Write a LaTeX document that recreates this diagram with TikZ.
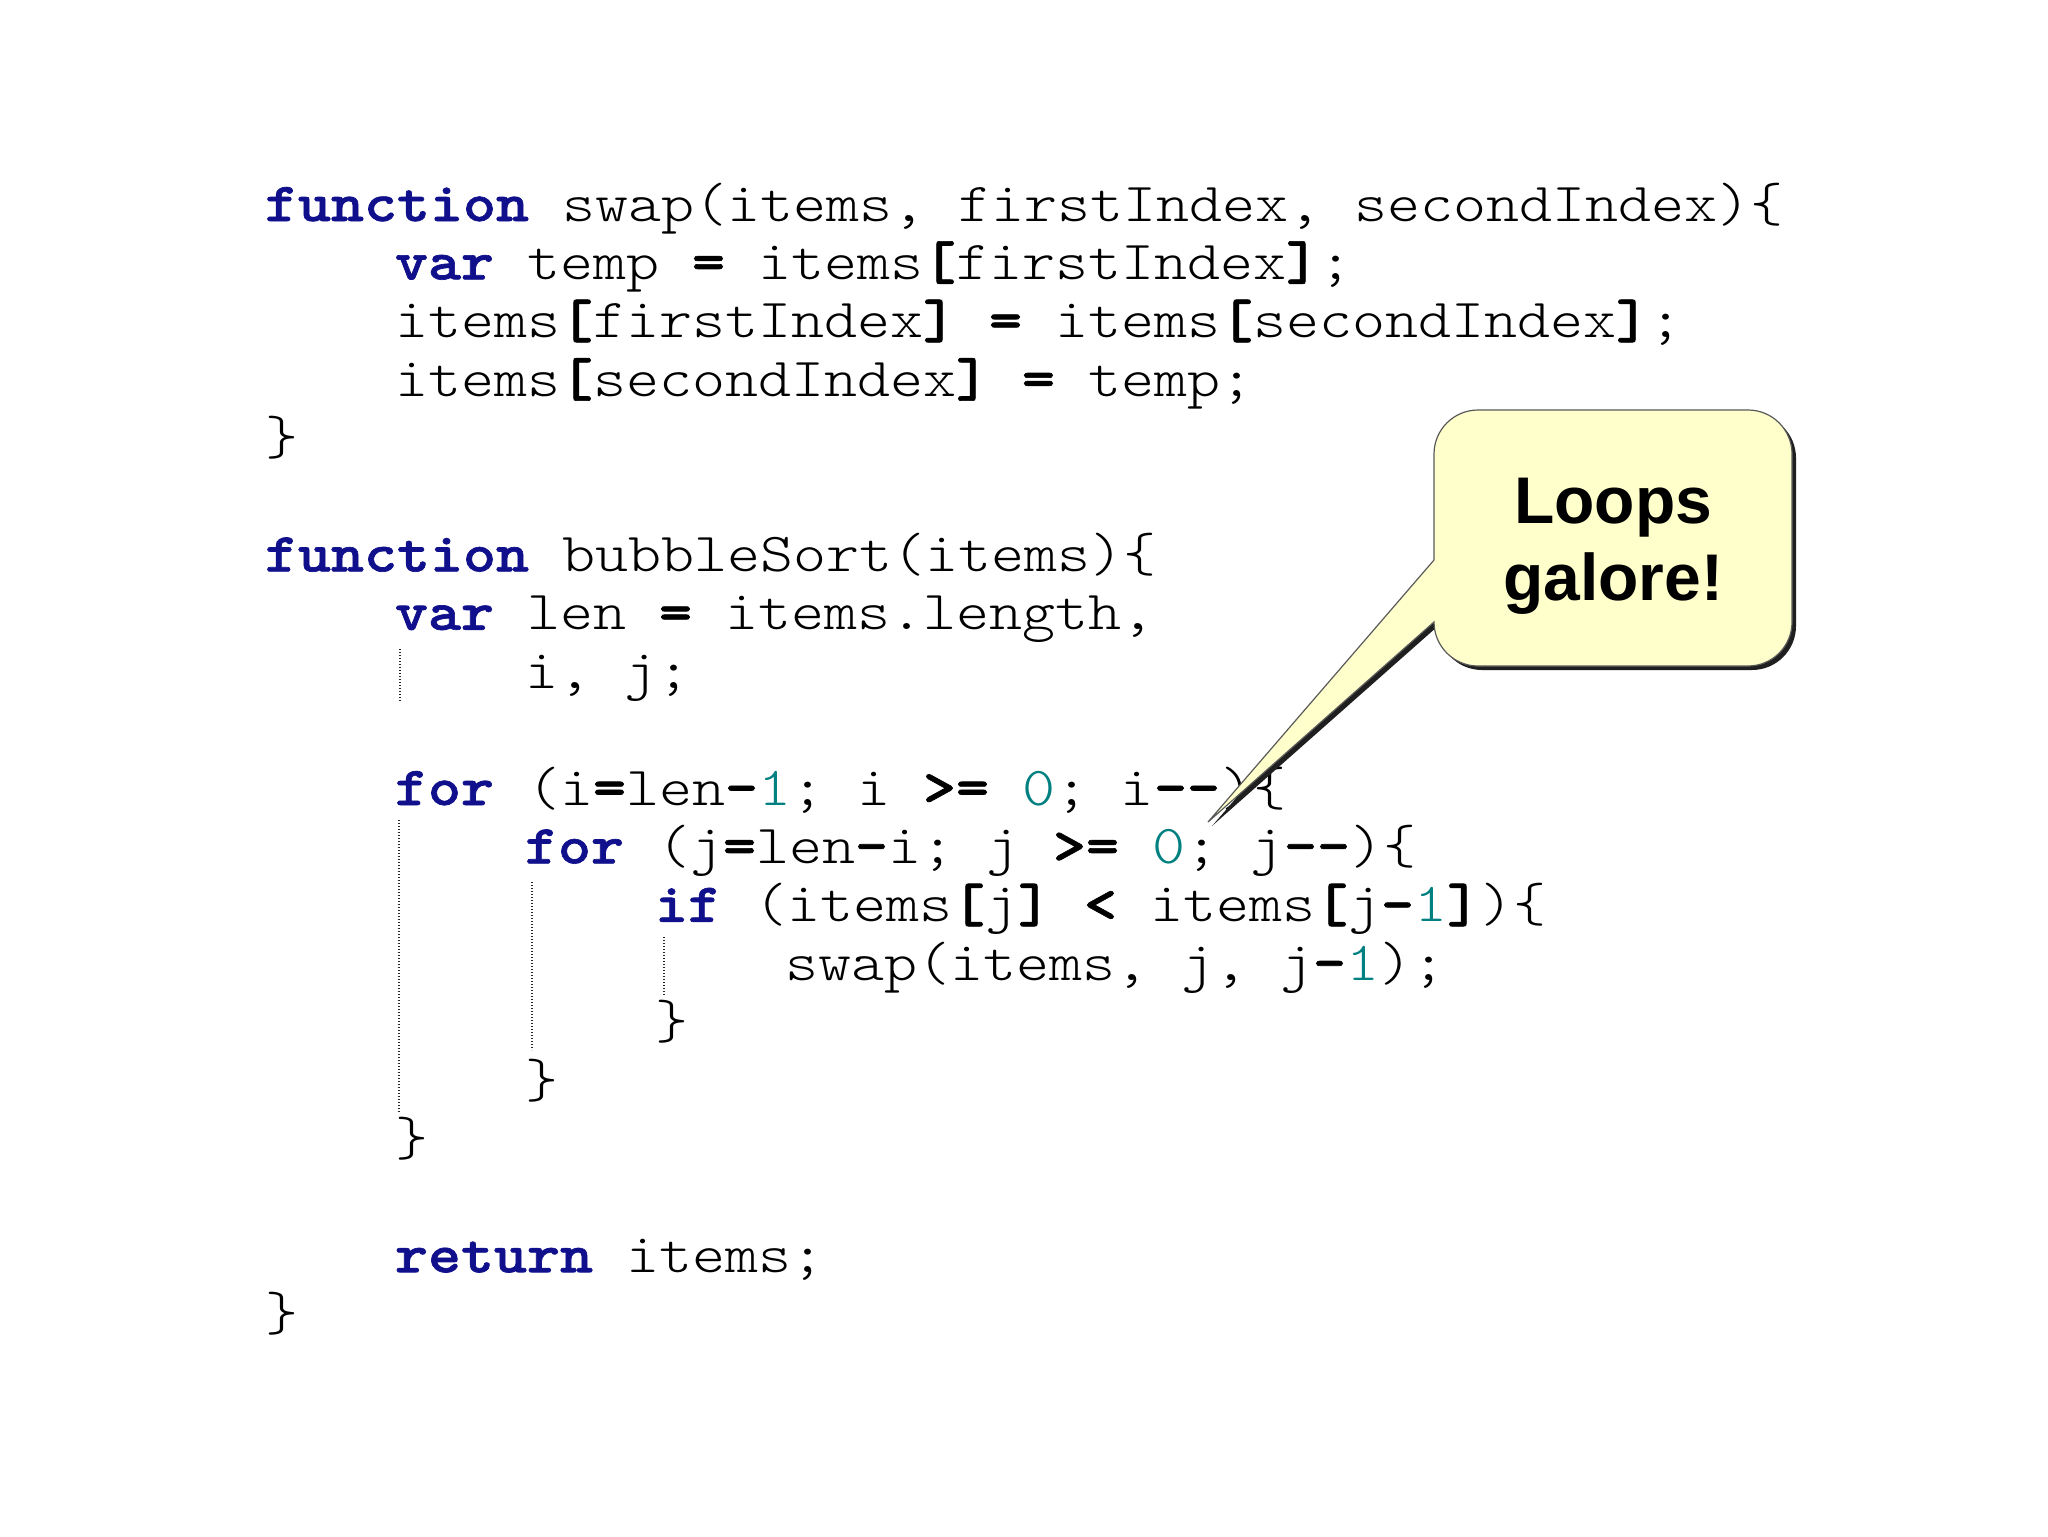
\documentclass[tikz,border=0pt]{standalone}
\usepackage{fontspec}
\setmonofont{lmmonolt10-regular.otf}[FakeStretch=1.1429,BoldFont=lmmonolt10-bold.otf,BoldFeatures={FakeBold=1.2}]
\newfontfamily\calloutfont{Liberation Sans}
\definecolor{kwc}{RGB}{16,16,140}
\definecolor{numc}{RGB}{0,128,128}
\definecolor{callfill}{RGB}{255,255,204}
\definecolor{callline}{RGB}{90,90,90}
\newcommand\kwd[1]{{\bfseries\color{kwc}#1}}
\newcommand\numb[1]{{\color{numc}#1}}
\newcommand\opb[1]{{\bfseries #1}}
\tikzset{
  codeline/.style={anchor=base west,inner sep=0pt,outer sep=0pt,font=\ttfamily\fontsize{27.5}{29}\selectfont,text=black},
  guide/.style={draw=black!85,line width=0.8pt,dash pattern=on 0.7pt off 0.8pt},
  callshadow/.style={fill=black!88},
  callbox/.style={fill=callfill,draw=callline,line width=0.6pt,line join=miter},
  calltext/.style={anchor=base,inner sep=0pt,font=\calloutfont\bfseries\fontsize{33}{38}\selectfont}
}
\newcommand\callpath{(1434,560) -- (1434,454) arc[start angle=180,end angle=270,radius=44]
  -- (1748,410) arc[start angle=270,end angle=360,radius=44]
  -- (1792,622) arc[start angle=0,end angle=90,radius=44]
  -- (1478,666) arc[start angle=90,end angle=180,radius=44]
  -- (1208,822) -- cycle}
\begin{document}
\begin{tikzpicture}[x=0.5pt,y=-0.5pt]
\useasboundingbox[fill=white] (0,0) rectangle (2048,1536);
% levels: x = 265 + 130*level ; baselines: 221 + 58.4*k
\node[codeline] (l0)  at (265,221)    {\kwd{function} swap(items, firstIndex, secondIndex)\{};
\node[codeline] (l1)  at (395,279.4) {\kwd{var} temp \opb{=} items\opb{[}firstIndex\opb{]};};
\node[codeline] (l2)  at (395,337.8) {items\opb{[}firstIndex\opb{]} \opb{=} items\opb{[}secondIndex\opb{]};};
\node[codeline] (l3)  at (395,396.2) {items\opb{[}secondIndex\opb{]} \opb{=} temp;};
\node[codeline] (l4)  at (265,454.6)  {\}};
\node[codeline] (l6)  at (265,571.4)  {\kwd{function} bubbleSort(items)\{};
\node[codeline] (l7)  at (395,629.8) {\kwd{var} len \opb{=} items.length,};
\node[codeline] (l8)  at (525,688.2) {i, j;};
\node[codeline] (l10) at (395,805)  {\kwd{for} (i\opb{=}len\opb{-}\numb{1}; i \opb{>=} \numb{0}; i\opb{--})\{};
\node[codeline] (l11) at (525,863.4) {\kwd{for} (j\opb{=}len\opb{-}i; j \opb{>=} \numb{0}; j\opb{--})\{};
\node[codeline] (l12) at (655,921.8) {\kwd{if} (items\opb{[}j\opb{]} \opb{<} items\opb{[}j\opb{-}\numb{1}\opb{]})\{};
\node[codeline] (l13) at (785,980.2) {swap(items, j, j\opb{-}\numb{1});};
\node[codeline] (l14) at (655,1038.6) {\}};
\node[codeline] (l15) at (525,1097) {\}};
\node[codeline] (l16) at (395,1155.4) {\}};
\node[codeline] (l18) at (395,1272.2) {\kwd{return} items;};
\node[codeline] (l19) at (265,1330.6) {\}};
% indentation guides
\coordinate (g0a) at (400,649);  \coordinate (g0b) at (400,701);
\coordinate (g1a) at (399,820);  \coordinate (g1b) at (399,1112);
\coordinate (g2a) at (532,882);  \coordinate (g2b) at (532,1050);
\coordinate (g3a) at (664,937);  \coordinate (g3b) at (664,995);
\draw[guide] (g0a) -- (g0b);
\draw[guide] (g1a) -- (g1b);
\draw[guide] (g2a) -- (g2b);
\draw[guide] (g3a) -- (g3b);
% callout
\fill[callshadow,shift={(4,4)}] \callpath;
\path[callbox] \callpath;
\node[calltext] (t1) at (1613,523) {Loops};
\node[calltext] (t2) at (1613,600) {galore!};
\end{tikzpicture}
\end{document}
